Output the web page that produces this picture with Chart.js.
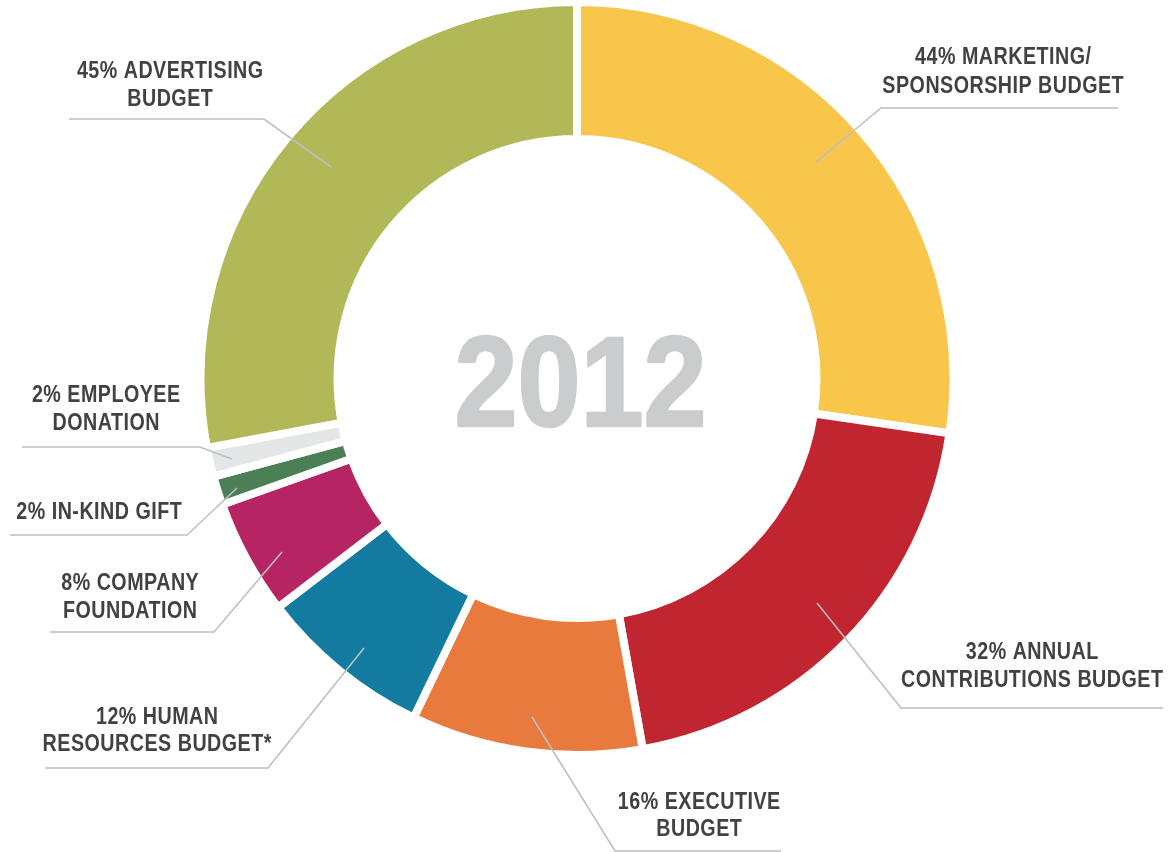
<!DOCTYPE html>
<html>
<head>
<meta charset="utf-8">
<script src="https://cdn.jsdelivr.net/npm/chart.js@4.4.1/dist/chart.umd.min.js"></script>
<style>
html,body{margin:0;padding:0;background:#ffffff;}
#wrap{width:1169px;height:852px;position:relative;}
</style>
</head>
<body>
<div id="wrap"><canvas id="c" width="1169" height="852"></canvas></div>
<script>
// ---- data ----
const categories = ['Marketing/Sponsorship Budget','Annual Contributions Budget','Executive Budget','Human Resources Budget*','Company Foundation','In-Kind Gift','Employee Donation','Advertising Budget'];
const percentValues = [44, 32, 16, 12, 8, 2, 2, 45];
const labelLines = [
  ['44% MARKETING/', 'SPONSORSHIP BUDGET'],
  ['32% ANNUAL', 'CONTRIBUTIONS BUDGET'],
  ['16% EXECUTIVE', 'BUDGET'],
  ['12% HUMAN', 'RESOURCES BUDGET*'],
  ['8% COMPANY', 'FOUNDATION'],
  ['2% IN-KIND GIFT'],
  ['2% EMPLOYEE', 'DONATION'],
  ['45% ADVERTISING', 'BUDGET']
];
const centerTitle = '2012';
const sliceColors = ['#F9C64C','#C1252F','#E87A3D','#137AA0','#B52463','#4B7F55','#E5E6E8','#B0B857'];

// ---- callout layout (positions of text and leader lines) ----
const callouts = [
  {start:[815,163], elbow:[881,108], end:1118, tx:1003, ty:[57,86]},
  {start:[817,603], elbow:[901,708], end:1163, tx:1032, ty:[652,680]},
  {start:[532,717], elbow:[615,851], end:781, tx:699, ty:[802,829]},
  {start:[364,648], elbow:[268,768], end:45, tx:157, ty:[717,744]},
  {start:[282,552], elbow:[214,632], end:50, tx:130, ty:[583,611]},
  {start:[237,488], elbow:[187,535], end:10, tx:99, ty:[512]},
  {start:[232,459], elbow:[200,447], end:22, tx:106, ty:[395,423]},
  {start:[331,167], elbow:[264,119], end:69, tx:170, ty:[71,99]}
];

function hasFont(name){
  const c = document.createElement('canvas').getContext('2d');
  c.font = '40px monospace';
  const w1 = c.measureText('ABCmmwi2012').width;
  c.font = '40px "' + name + '", monospace';
  return c.measureText('ABCmmwi2012').width !== w1;
}
const narrow = hasFont('Liberation Sans Narrow');
const FONT = narrow ? '"Liberation Sans Narrow"' : '"Liberation Sans"';
const SX = narrow ? 1 : 0.82;

function drawText(ctx, text, x, y, font, color, ls, opts){
  opts = opts || {};
  ctx.save();
  ctx.font = font;
  ctx.fillStyle = color;
  ctx.textAlign = 'center';
  ctx.textBaseline = opts.baseline || 'middle';
  if (ls) ctx.letterSpacing = ls + 'px';
  ctx.translate(x, y);
  ctx.scale(SX * (opts.sx || 1), 1);
  ctx.fillText(text, ls ? ls/2 : 0, 0);
  if (opts.stroke) {
    ctx.strokeStyle = color;
    ctx.lineWidth = opts.stroke;
    ctx.lineJoin = 'round';
    ctx.strokeText(text, ls ? ls/2 : 0, 0);
  }
  ctx.restore();
}

const calloutPlugin = {
  id: 'callouts',
  afterDatasetsDraw(chart){
    const ctx = chart.ctx;
    const meta = chart.getDatasetMeta(0);
    const cx = meta.data[0].x, cy = meta.data[0].y;
    // center title
    drawText(ctx, centerTitle, cx + 3.5, cy + 47.5, 'bold 128px ' + FONT, '#CBCCCE', 0,
      {baseline: 'alphabetic', sx: 1.08, stroke: 2.5});
    // leader lines
    ctx.save();
    ctx.strokeStyle = '#BEBFC1';
    ctx.lineWidth = 1.6;
    callouts.forEach(c => {
      ctx.beginPath();
      ctx.moveTo(c.start[0], c.start[1]);
      ctx.lineTo(c.elbow[0], c.elbow[1]);
      ctx.lineTo(c.end, c.elbow[1]);
      ctx.stroke();
    });
    ctx.restore();
    // labels
    callouts.forEach((c, i) => {
      labelLines[i].forEach((t, j) => {
        drawText(ctx, t, c.tx, c.ty[j], 'bold 24px ' + FONT, '#424243', 0.6);
      });
    });
  }
};

new Chart(document.getElementById('c'), {
  type: 'doughnut',
  data: {
    labels: categories,
    datasets: [{
      data: percentValues,
      backgroundColor: sliceColors,
      borderColor: '#ffffff',
      borderWidth: 8,
      borderJoinStyle: 'miter',
      hoverOffset: 0
    }]
  },
  options: {
    responsive: false,
    animation: false,
    radius: 376.5,
    cutout: '63.6%',
    layout: { padding: { left: 0, right: 15, top: 0, bottom: 95 } },
    plugins: { legend: { display: false }, tooltip: { enabled: false } }
  },
  plugins: [calloutPlugin]
});
</script>
</body>
</html>
